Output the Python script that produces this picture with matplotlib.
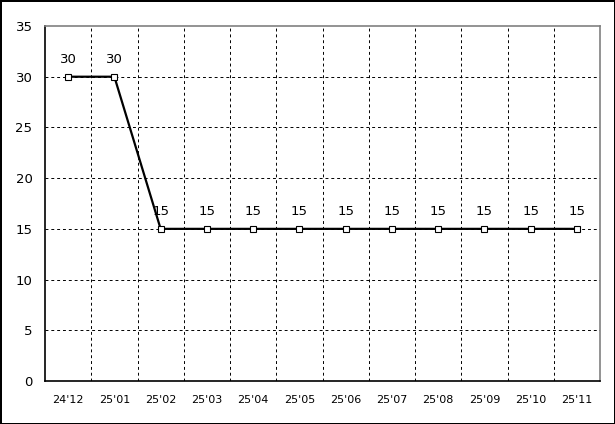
import numpy as np
import matplotlib.pyplot as plt

# data
months = ["24'12", "25'01", "25'02", "25'03", "25'04", "25'05",
          "25'06", "25'07", "25'08", "25'09", "25'10", "25'11"]
values = [30, 30, 15, 15, 15, 15, 15, 15, 15, 15, 15, 15]

fig = plt.figure(figsize=(6.15, 4.24), dpi=100)
ax = fig.add_axes([45/615, 43/424, 555/615, 355/424])

x = np.arange(len(months))
ax.plot(x, values, color='black', lw=1.6, marker='s', ms=4.5,
        mfc='white', mec='black', mew=0.8, zorder=3)

for xi, v in zip(x, values):
    ax.text(xi, v + 1.1, str(v), ha='center', va='bottom', fontsize=9.5)

ax.set_xlim(-0.5, len(months) - 0.5)
ax.set_ylim(0, 35)
ax.set_yticks(np.arange(0, 36, 5))
ax.set_xticks(x)
ax.set_xticklabels(months, fontsize=8)
ax.tick_params(axis='y', labelsize=9.5, length=0, pad=9)
ax.tick_params(axis='x', length=0, pad=10)

# grid: dashed vertical between categories, dashed horizontal at ticks
for b in np.arange(0.5, len(months) - 0.5, 1):
    ax.axvline(b, color='black', lw=0.7, ls=(0, (3, 3)), zorder=1)
for yv in np.arange(5, 35, 5):
    ax.axhline(yv, color='black', lw=0.7, ls=(0, (3, 3)), zorder=1)

ax.spines['left'].set_color('black')
ax.spines['bottom'].set_color('black')
ax.spines['top'].set_color('#808080')
ax.spines['right'].set_color('#808080')
for s in ax.spines.values():
    s.set_linewidth(1.2)

# outer frame of the picture
fig.patch.set_edgecolor('black')
fig.patch.set_linewidth(1.0)

fig.savefig('out.png', dpi=100, edgecolor=fig.get_edgecolor())
